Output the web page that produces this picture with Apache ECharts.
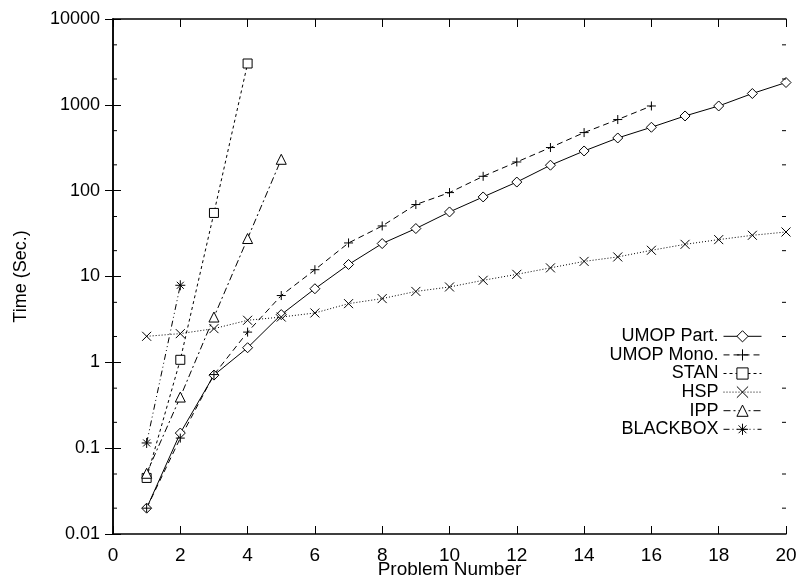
<!DOCTYPE html>
<html><head><meta charset="utf-8">
<script src="https://cdn.jsdelivr.net/npm/echarts@6/dist/echarts.min.js"></script>
<style>html,body{margin:0;padding:0;background:#fff}#c{width:798px;height:579px}</style>
</head><body><div id="c"></div>
<script>
const FONT = 'Liberation Sans, Arial, Helvetica, sans-serif';
const xTicks = [0,2,4,6,8,10,12,14,16,18,20];
const yTickLabels = ['0.01','0.1','1','10','100','1000','10000'];
const minorTicks = [0.02,0.05,0.2,0.5,2,5,20,50,200,500,2000,5000];

const problems = [1,2,3,4,5,6,7,8,9,10,11,12,13,14,15,16,17,18,19,20];
const umopPart = [0.02,0.15,0.71,1.48,3.6,7.2,13.8,24.2,36.2,56.5,84.5,126,198,290,411,548,742,970,1355,1820];
const umopMono = [0.02,0.131,0.72,2.25,6.0,12.0,24.6,38.8,68.9,95,147,216,318,475,674,970];
const stan     = [0.045,1.07,55,3030];
const hsp      = [2.01,2.16,2.47,3.09,3.37,3.76,4.83,5.53,6.7,7.55,9.03,10.6,12.6,15.0,16.9,20.2,23.7,26.9,30.2,33.0];
const ipp      = [0.051,0.394,3.37,27.7,232];
const blackbox = [0.115,7.9];

const seriesNames = ['UMOP Part.','UMOP Mono.','STAN','HSP','IPP','BLACKBOX'];

const PLUS = 'path://M0,5L10,5M5,0L5,10';
const CROSS = 'path://M0,0L10,10M10,0L0,10';
const STAR = 'path://M0,5L10,5M5,0L5,10M1.5,1.5L8.5,8.5M8.5,1.5L1.5,8.5';

function pairs(vals){ return vals.map((v,i)=>[problems[i], v]); }

function mk(name, vals, symbol, size, dash, hollowFill){
  return {
    name, type:'line', data: pairs(vals),
    xAxisIndex:0, yAxisIndex:0,
    symbol, symbolSize:size, showSymbol:true,
    lineStyle:{color:'#000', width:1, type:dash},
    itemStyle:{color: hollowFill, borderColor:'#000', borderWidth:1},
    emphasis:{disabled:true}, silent:true, z:3
  };
}

const chart = echarts.init(document.getElementById('c'), null, {renderer:'canvas'});
const xText = {color:'#000', fontSize:19, fontFamily:FONT};
const yText = {color:'#000', fontSize:18, fontFamily:FONT};
chart.setOption({
  animation:false,
  backgroundColor:'#fff',
  grid:{left:113, right:12, top:19, bottom:45, containLabel:false, outerBoundsMode:'none'},
  legend:{
    data: seriesNames, orient:'vertical', align:'right',
    right:36, top:327, padding:0, itemGap:0, itemWidth:38, itemHeight:14,
    textStyle:{color:'#000', fontSize:18, fontFamily:FONT, lineHeight:18.6},
    lineStyle:{width:1},
    itemStyle:{borderWidth:1},
    selectedMode:false
  },
  xAxis:[{
    type:'value', min:0, max:20, interval:2, position:'bottom',
    name:'Problem Number', nameLocation:'middle', nameGap:26, nameMoveOverlap:false,
    nameTextStyle:xText,
    axisLine:{show:true, lineStyle:{color:'#000', width:1.5}},
    axisTick:{show:true, inside:true, length:8, lineStyle:{color:'#000'}},
    axisLabel:{...xText, margin:12, formatter:v=> xTicks.includes(v)? String(v):''},
    splitLine:{show:false}
  },{
    type:'value', min:0, max:20, interval:2, position:'top',
    axisLine:{show:true, lineStyle:{color:'#000', width:1.5}},
    axisTick:{show:true, inside:true, length:8, lineStyle:{color:'#000'}},
    axisLabel:{show:false}, splitLine:{show:false}
  }],
  yAxis:[{
    type:'log', logBase:10, min:0.01, max:10000, position:'left',
    name:'Time (Sec.)', nameLocation:'middle', nameGap:83, nameRotate:90, nameMoveOverlap:false,
    nameTextStyle:yText,
    axisLine:{show:true, lineStyle:{color:'#000', width:1.5}},
    axisTick:{show:true, inside:true, length:8, lineStyle:{color:'#000'}},
    axisLabel:{...yText, margin:13, formatter:v=>{
      const s = String(+v.toPrecision(6));
      return yTickLabels.includes(s)? s : '';
    }},
    splitLine:{show:false}
  },{
    type:'log', logBase:10, min:0.01, max:10000, position:'right',
    axisLine:{show:true, lineStyle:{color:'#000', width:1.5}},
    axisTick:{show:true, inside:true, length:8, lineStyle:{color:'#000'}},
    axisLabel:{show:false}, splitLine:{show:false}
  }],
  series:[
    mk('UMOP Part.', umopPart, 'diamond', 10, 'solid', '#fff'),
    mk('UMOP Mono.', umopMono, PLUS, 9, [6,4], 'rgba(0,0,0,0)'),
    mk('STAN', stan, 'rect', 9, [3,3], '#fff'),
    mk('HSP', hsp, CROSS, 9, [1,2], 'rgba(0,0,0,0)'),
    mk('IPP', ipp, 'triangle', 10, [7,3,2,3], '#fff'),
    mk('BLACKBOX', blackbox, STAR, 10, [6,3,1,3,1,3], 'rgba(0,0,0,0)'),
    {
      type:'custom', silent:true, clip:false, z:5,
      xAxisIndex:0, yAxisIndex:0,
      data: minorTicks.map(v=>[0, v]),
      renderItem:(params, api)=>{
        const v = api.value(1);
        const L = api.coord([0, v]);
        const R = api.coord([20, v]);
        return {type:'group', children:[
          {type:'line', shape:{x1:L[0], y1:L[1], x2:L[0]+4, y2:L[1]}, style:{stroke:'#000', lineWidth:1}},
          {type:'line', shape:{x1:R[0], y1:R[1], x2:R[0]-4, y2:R[1]}, style:{stroke:'#000', lineWidth:1}}
        ]};
      }
    }
  ]
});
</script></body></html>
